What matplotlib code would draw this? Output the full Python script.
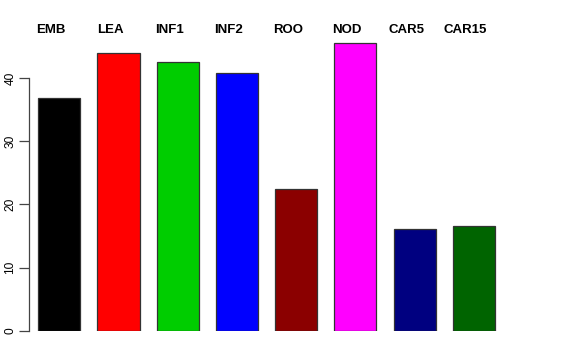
import matplotlib
matplotlib.use("Agg")
import matplotlib.pyplot as plt
import matplotlib.transforms as mtransforms

labels = ["EMB", "LEA", "INF1", "INF2", "ROO", "NOD", "CAR5", "CAR15"]
values = [36.8, 44.0, 42.6, 40.9, 22.5, 45.6, 16.1, 16.6]
colors = ["#000000", "#FF0000", "#00CD00", "#0000FF",
          "#8B0000", "#FF00FF", "#000080", "#006400"]
yticks = [0, 10, 20, 30, 40]

plt.rcParams['font.family'] = ['Liberation Sans', 'DejaVu Sans']

fig = plt.figure(figsize=(5.76, 3.6), dpi=100)
ax = fig.add_axes([29 / 576, 29.3 / 360, 0.8753, 0.8063])

xs = list(range(len(values)))
ax.bar(xs, values, width=0.71, color=colors, edgecolor="#333333", linewidth=0.9)

ax.set_xlim(-0.511, 8.0)
ax.set_ylim(0, 46)

for side in ["top", "right", "bottom"]:
    ax.spines[side].set_visible(False)
ax.spines["left"].set_bounds(0, 40)
ax.spines["left"].set_color("#444444")
ax.spines["left"].set_linewidth(0.9)
ax.set_xticks([])
ax.set_yticks(yticks)
ax.tick_params(axis="y", length=7, width=0.9, color="#444444", pad=2, labelsize=8.6)
for t in ax.get_yticklabels():
    t.set_rotation(90)
    t.set_va("center")

trans = mtransforms.offset_copy(ax.transData, fig=fig, x=-8.3, y=0, units="dots")
for x, lab in zip(xs, labels):
    ax.text(x, 47.7, lab, transform=trans, ha="center", va="center",
            fontsize=9.5, fontweight="bold", clip_on=False)

fig.savefig("out.png", dpi=100)
